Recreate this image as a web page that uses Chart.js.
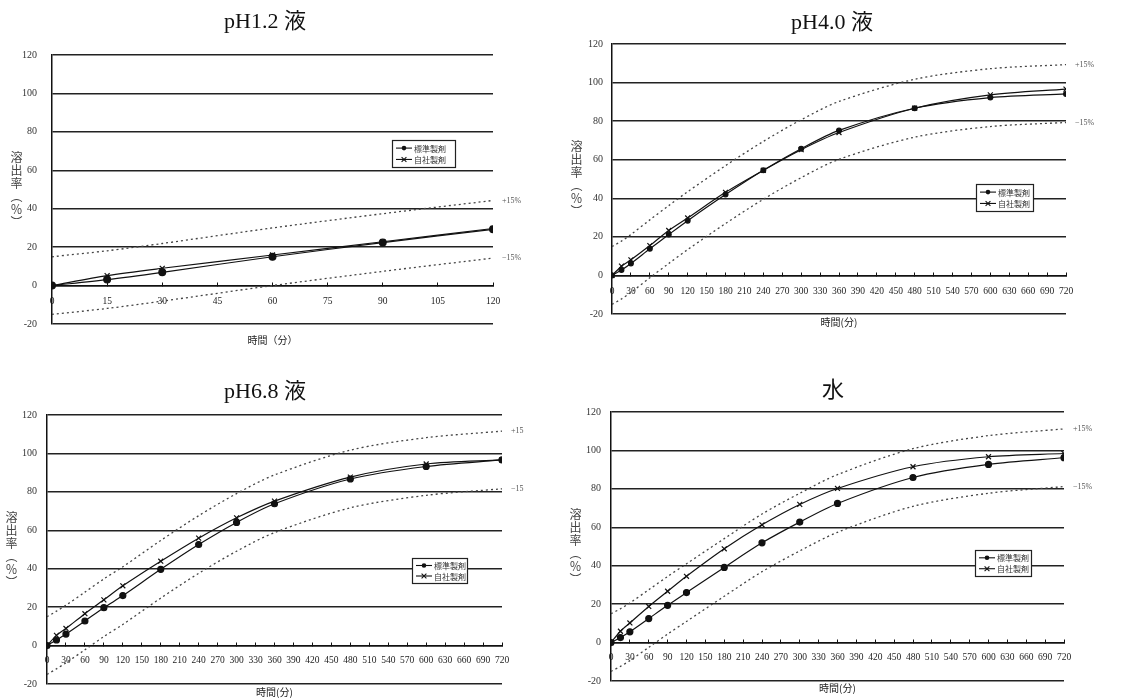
<!DOCTYPE html>
<html>
<head>
<meta charset="utf-8">
<script src="https://cdn.jsdelivr.net/npm/chart.js@4.4.1/dist/chart.umd.min.js"></script>
<style>
  body { margin: 0; background: #fff; width: 1142px; height: 700px; overflow: hidden; position: relative; }
  .panel { position: absolute; }
  .ytitle {
    position: absolute; writing-mode: vertical-rl; font: 12px "Noto Sans CJK JP", sans-serif;
    letter-spacing: 1px; line-height: 12px; color: #444; white-space: nowrap;
  }
</style>
</head>
<body>
<div class="panel" style="left:0;top:0;width:570px;height:350px"><canvas id="ph12"></canvas></div>
<div class="panel" style="left:570px;top:0;width:572px;height:350px"><canvas id="ph40"></canvas></div>
<div class="panel" style="left:0;top:350px;width:570px;height:350px"><canvas id="ph68"></canvas></div>
<div class="panel" style="left:570px;top:350px;width:572px;height:350px"><canvas id="water"></canvas></div>
<script>
// sampling times (min)
const shortTime = [0, 15, 30, 60, 90, 120];
const longTime = [0, 15, 30, 60, 90, 120, 180, 240, 300, 360, 480, 600, 720];
const seriesNames = ['標準製剤', '自社製剤'];
const yTitle = '溶出率（％）';

// pH1.2
const ph12Std = [0, 3.1, 6.9, 15.0, 22.4, 29.3];
const ph12Own = [0, 5.2, 9.0, 15.9, 22.8, 29.7];
const ph12Upper = [15, 18.1, 21.9, 30.0, 37.4, 44.3];
const ph12Lower = [-15, -11.9, -8.1, 0.0, 7.4, 14.3];

// pH4.0
const ph40Std = [0, 2.8, 6.2, 13.8, 21.2, 28.4, 41.9, 54.5, 65.7, 75.2, 86.7, 92.2, 94.1];
const ph40Own = [0, 4.8, 8.1, 15.5, 23.3, 29.8, 43.1, 54.5, 65.2, 74.1, 86.7, 93.6, 96.6];
const ph40Upper = [15, 17.8, 21.2, 28.8, 36.2, 43.4, 56.9, 69.5, 80.7, 90.2, 101.7, 107.2, 109.3];
const ph40Lower = [-15, -12.2, -8.8, -1.2, 6.2, 13.4, 26.9, 39.5, 50.7, 60.2, 71.7, 77.2, 79.3];

// pH6.8
const ph68Std = [0, 2.9, 6.0, 12.8, 19.7, 26.0, 39.7, 52.6, 64.1, 73.8, 86.7, 93.2, 96.6];
const ph68Own = [0, 5.3, 8.9, 16.6, 23.8, 31.1, 43.9, 55.9, 66.5, 75.2, 87.7, 94.5, 96.6];
const ph68Upper = [15, 17.9, 21.0, 27.8, 34.7, 41.0, 54.7, 67.6, 79.1, 88.8, 101.7, 108.2, 111.6];
const ph68Lower = [-15, -12.1, -9.0, -2.2, 4.7, 11.0, 24.7, 37.6, 49.1, 58.8, 71.7, 78.2, 81.6];

// water
const waterStd = [0, 2.6, 5.6, 12.5, 19.4, 26.0, 39.1, 51.9, 62.7, 72.4, 85.9, 92.7, 96.2];
const waterOwn = [0, 5.9, 10.2, 18.8, 26.7, 34.5, 48.8, 61.3, 71.9, 80.2, 91.5, 96.7, 98.4];
const waterUpper = [15, 17.6, 20.6, 27.5, 34.4, 41.0, 54.1, 66.9, 77.7, 87.4, 100.9, 107.7, 111.2];
const waterLower = [-15, -12.4, -9.4, -2.5, 4.4, 11.0, 24.1, 36.9, 47.7, 57.4, 70.9, 77.7, 81.2];

const serif = '"Liberation Serif", "DejaVu Serif", "Noto Sans CJK JP", serif';
const cjk = '"Noto Sans CJK JP", sans-serif';

const panels = [
  { id: 'ph12', w: 570, title: 'pH1.2 液', titleX: 265, titleY: 22, time: shortTime, std: ph12Std, own: ph12Own, upper: ph12Upper, lower: ph12Lower,
    xMax: 120, xStep: 15, xTitle: '時間（分）', xTitleGap: 16, xPad: 14, yPad: 15, area: { left: 52, right: 493, top: 55, bottom: 324 },
    legend: { x: 392, y: 140, w: 63, h: 27 }, bandLabels: ['+15%', '−15%'], dot: 3.4 },
  { id: 'ph40', w: 572, title: 'pH4.0 液', titleX: 262, titleY: 23, time: longTime, std: ph40Std, own: ph40Own, upper: ph40Upper, lower: ph40Lower,
    xMax: 720, xStep: 30, xTitle: '時間(分)', xTitleGap: 8, xPad: 14, yPad: 9, area: { left: 42, right: 496, top: 44, bottom: 314 },
    legend: { x: 406, y: 184, w: 57, h: 27 }, bandLabels: ['+15%', '−15%'], dot: 2.4 },
  { id: 'ph68', w: 570, title: 'pH6.8 液', titleX: 265, titleY: 42, time: longTime, std: ph68Std, own: ph68Own, upper: ph68Upper, lower: ph68Lower,
    xMax: 720, xStep: 30, xTitle: '時間(分)', xTitleGap: 8, xPad: 13, yPad: 10, area: { left: 47, right: 502, top: 65, bottom: 337 },
    legend: { x: 412, y: 208, w: 55, h: 25 }, bandLabels: ['+15', '−15'], dot: 3 },
  { id: 'water', w: 572, title: '水', titleX: 263, titleY: 41, time: longTime, std: waterStd, own: waterOwn, upper: waterUpper, lower: waterLower,
    xMax: 720, xStep: 30, xTitle: '時間(分)', xTitleGap: 7, xPad: 13, yPad: 10, area: { left: 41, right: 494, top: 62, bottom: 331 },
    legend: { x: 405, y: 200, w: 56, h: 26 }, bandLabels: ['+15%', '−15%'], dot: 3 }
];

function drawMarker(ctx, style, x, y, r) {
  ctx.beginPath();
  if (style === 'circle') {
    ctx.arc(x, y, r, 0, Math.PI * 2);
    ctx.fill();
  } else {
    ctx.moveTo(x - r, y - r); ctx.lineTo(x + r, y + r);
    ctx.moveTo(x - r, y + r); ctx.lineTo(x + r, y - r);
    ctx.stroke();
  }
}

const deco = {
  id: 'deco',
  afterDraw(chart, args, o) {
    const ctx = chart.ctx, a = chart.chartArea, ys = chart.scales.y;
    ctx.save();
    ctx.fillStyle = '#111';
    ctx.textAlign = 'center';
    ctx.textBaseline = 'middle';
    ctx.font = `22px ${serif}`;
    ctx.fillText(o.title, o.titleX, o.titleY);

    // x title
    ctx.font = `10px ${cjk}`;
    ctx.fillStyle = '#222';
    ctx.fillText(o.xTitle, (a.left + a.right) / 2, a.bottom + o.xTitleGap);

    // band labels
    ctx.font = `8px ${serif}`;
    ctx.fillStyle = '#555';
    ctx.textAlign = 'left';
    ctx.fillText(o.bandLabels[0], a.right + 9, ys.getPixelForValue(o.upper[o.upper.length - 1]));
    ctx.fillText(o.bandLabels[1], a.right + 9, ys.getPixelForValue(o.lower[o.lower.length - 1]));

    // legend box
    const L = o.legend;
    ctx.fillStyle = '#fff';
    ctx.fillRect(L.x, L.y, L.w, L.h);
    ctx.strokeStyle = '#222';
    ctx.lineWidth = 1.2;
    ctx.strokeRect(L.x + 0.5, L.y + 0.5, L.w, L.h);
    ctx.font = `8px ${cjk}`;
    [['circle', L.y + L.h * 0.3], ['crossRot', L.y + L.h * 0.72]].forEach(([style, ry], i) => {
      ctx.strokeStyle = '#111';
      ctx.fillStyle = '#111';
      ctx.lineWidth = 1.1;
      ctx.beginPath();
      ctx.moveTo(L.x + 4, ry); ctx.lineTo(L.x + 20, ry);
      ctx.stroke();
      drawMarker(ctx, style, L.x + 12, ry, style === 'circle' ? 2.3 : 2.4);
      ctx.fillStyle = '#333';
      ctx.fillText(seriesNames[i], L.x + 22, ry + 0.5);
    });
    ctx.restore();
  }
};

function pts(time, vals) {
  return time.map((t, i) => ({ x: t, y: vals[i] }));
}

panels.forEach((p) => {
  // vertical y-axis title as real text
  const yt = document.createElement('div');
  yt.className = 'ytitle';
  yt.textContent = yTitle;
  yt.style.left = (p.area.left - 42) + 'px';
  yt.style.top = (p.area.top + 96) + 'px';
  document.getElementById(p.id).parentNode.appendChild(yt);

  const band = (vals) => ({
    data: pts(p.time, vals), borderColor: '#444', borderWidth: 1.3, borderDash: [2, 3],
    pointRadius: 0, tension: 0.3, fill: false
  });
  new Chart(document.getElementById(p.id), {
    type: 'line',
    data: {
      datasets: [
        { label: seriesNames[0], data: pts(p.time, p.std), borderColor: '#111', borderWidth: 1.2,
          pointStyle: 'circle', pointRadius: p.dot, pointBackgroundColor: '#111', pointBorderColor: '#111', tension: 0.3 },
        { label: seriesNames[1], data: pts(p.time, p.own), borderColor: '#111', borderWidth: 1.2,
          pointStyle: 'crossRot', pointRadius: 3.5, pointBorderColor: '#111', pointBorderWidth: 1.2, tension: 0.3 },
        band(p.upper),
        band(p.lower)
      ]
    },
    options: {
      responsive: true,
      maintainAspectRatio: false,
      animation: false,
      events: [],
      layout: { padding: { left: 0, right: p.w - p.area.right, top: p.area.top, bottom: 350 - p.area.bottom } },
      plugins: {
        legend: { display: false },
        tooltip: { enabled: false },
        deco: p
      },
      scales: {
        x: {
          type: 'linear', min: 0, max: p.xMax, position: { y: 0 },
          ticks: { stepSize: p.xStep, autoSkip: false, maxRotation: 0, padding: p.xPad, color: '#222', font: { family: serif, size: 9.5 } },
          grid: { drawOnChartArea: false, drawTicks: true, tickLength: -4, color: '#111' },
          border: { color: '#111', width: 1.5 },
          afterFit: (s) => { s.height = 0; }
        },
        y: {
          min: -20, max: 120,
          ticks: { stepSize: 20, padding: p.yPad, color: '#333', font: { family: serif, size: 10 } },
          grid: { color: '#222', lineWidth: 1.4, drawTicks: false },
          border: { color: '#111', width: 1.5 },
          afterFit: (s) => { s.width = p.area.left; }
        }
      }
    },
    plugins: [deco]
  });
});
</script>
</body>
</html>
